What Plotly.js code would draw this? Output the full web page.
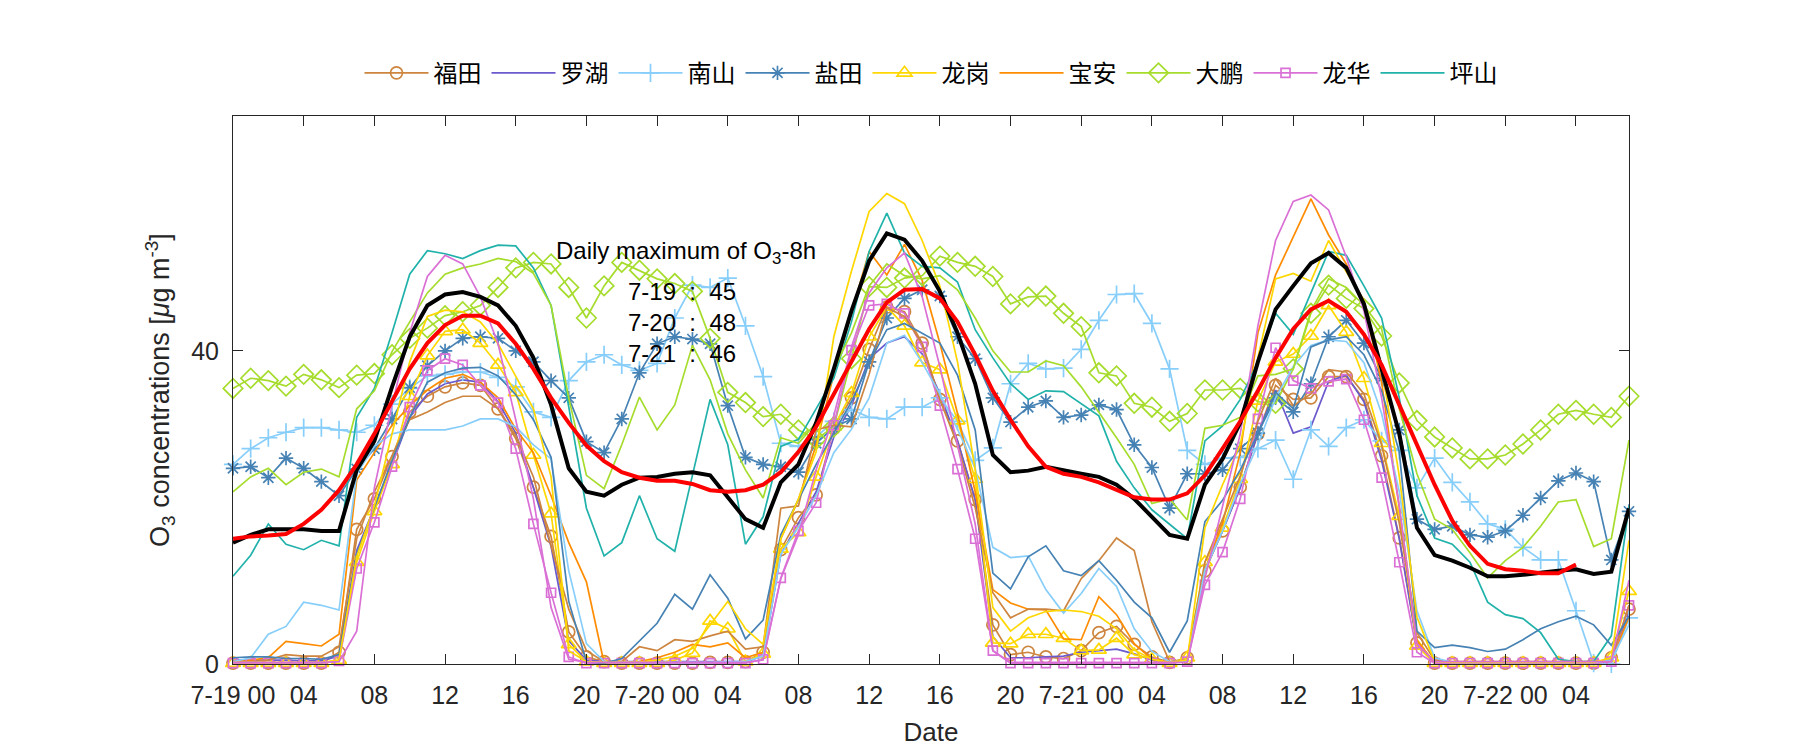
<!DOCTYPE html>
<html>
<head>
<meta charset="utf-8">
<script src="https://cdn.plot.ly/plotly-3.0.1.min.js"></script>
<style>html,body{margin:0;padding:0;background:#fff;}#chart{width:1800px;height:750px;}</style>
</head>
<body>
<div id="chart"></div>
<script>
// ---- time axis (hours since 7-19 00:00) ----
const hours = [0,1,2,3,4,5,6,7,8,9,10,11,12,13,14,15,16,17,18,19,20,21,22,23,24,25,26,27,28,29,30,31,32,33,34,35,36,37,38,39,40,41,42,43,44,45,46,47,48,49,50,51,52,53,54,55,56,57,58,59,60,61,62,63,64,65,66,67,68,69,70,71,72,73,74,75,76,77,78,79];
const tickHours = [0,4,8,12,16,20,24,28,32,36,40,44,48,52,56,60,64,68,72,76];
const tickLabels = ['7-19 00','04','08','12','16','20','7-20 00','04','08','12','16','20','7-21 00','04','08','12','16','20','7-22 00','04'];

// ---- station names ----
const stations = ['福田','罗湖','南山','盐田','龙岗','宝安','大鹏','龙华','坪山'];

// ---- first-set station series (with legend) ----
const futian = [0.1,0.1,0.1,0.1,0.1,0.1, 1.5,17.2,21.1,26.5,32.2,34.2,35.4,35.9,35.6,32.6,28.8,22.6,16.3,4.1,0.9,0.3, 0.1,0.1,0.1,0.1,0.1,0.2,0.2,0.3, 1.5,14.6,18.7,21.6,30.1,34.0,40.2,45.6,45.0,41.0,33.8,28.5,21.0,5.0,1.2,1.5,0.9,0.7,1.7,4.0,4.8,2.5,0.9,0.2, 0.8,11.9,17.0,22.6,29.4,35.6,33.8,34.0,36.7,36.7,33.8,26.6,16.1,2.7, 0.1,0.1,0.1,0.1,0.1,0.1,0.1,0.1,0.1,0.1, 0.8,7.0];
const luohu = [0.5,0.5,0.5,0.5,0.4,0.4,1.0, 14.5,20.0,25.5,31.5,34.5,35.8,36.3,36.0,33.5,29.5,22.5,15.0,3.0,0.5, 0.3,0.3,0.3,0.3,0.3,0.3,0.3,0.3,0.3,1.0, 14.0,18.0,22.0,29.0,33.0,39.0,41.0,41.8,39.6,34.5,28.5,21.0,3.5,0.8, 0.8,0.9,1.0,1.5,1.7,1.9,1.3,0.5,0.2,0.3, 12.0,17.0,22.5,29.5,35.0,29.5,30.3,36.1,36.9,33.5,26.0,16.0,2.5, 0.2,0.2,0.2,0.2,0.2,0.2,0.2,0.2,0.2,0.2,0.5,6.5];
const nanshan = [25.5,27.5,28.9,29.6,30.2,30.2,29.9,29.6,30.5,33.2,35.2, 36.8,37.0,37.3,37.3,36.6,35.4,32.2,31.5,36.2,38.6,39.5,38.2,37.5,38.4,44.2,48.4, 48.1,49.3,43.2,36.7,28.2,27.8,29.0,31.0,32.5,31.5,31.3,32.8,32.8,34.0,31.0,26.0,27.6,35.8,38.4,37.7,37.8,40.2,43.9,47.2,47.3,43.5,37.7, 27.3,25.5,26.3,26.4,27.5,28.6,23.6,29.9,27.8,30.2,31.2,28.5,27.3,22.5,26.3,23.2,20.7,17.9,17.2,14.9,13.3,13.3,6.8,0.1,0.0,5.9];
const yantian = [25.0,25.2,23.8,26.3,25.0,23.3,21.5,24.9,27.5,31.3,35.3,38.1,40.0,41.6,41.8,41.6,40.0,38.6,36.2,34.0,28.4,27.0,31.3,37.2,40.9,41.8,41.5, 40.9,33.0,26.4,25.5,25.2,24.5,28.2,30.2,31.3,38.6,44.2,46.7,47.8,47.0,41.8,39.0,34.0,30.9,32.8,33.6,31.5,31.8,33.1,32.5,28.0,25.1,19.9, 24.3,24.3,24.8,27.5,29.5,34.0,32.2,35.8,41.8,43.9,41.0,36.5,29.9,18.5,17.2,17.6,16.5,16.2,17.0,19.0,21.2,23.4,24.4,23.3,13.3,19.5];
const longgang = [0.1,0.1,0.1,0.1,0.1,0.1, 0.5,13.0,19.5,25.5,34.2,39.4,42.5,42.7,41.0,38.2,34.7,26.7,19.2,2.5,0.3,0.1,0.1,0.1,0.1,0.5,1.4, 5.5,4.5,0.3,1.3,14.7,16.8,23.9,30.3,34.6,41.8,45.6,43.2,38.5,37.6,31.1,23.6,2.7,2.6,3.8,3.8,3.3,1.7,1.8,3.3,1.2,0.6,0.1, 0.8,13.0,17.4,23.6,33.6,38.6,39.6,41.9,45.8,42.4,36.5,28.2,18.9,2.3, 0.1,0.1,0.1,0.1,0.1,0.1,0.1,0.1,0.1,0.1, 0.8,9.3];
const baoan = [0.3,0.5,0.8,2.9,2.6,2.3,3.8, 23.5,27.0,30.5,33.0,35.0,36.5,37.0,36.0,34.0,30.0,27.0,21.5,15.5,10.5, 0.1,0.1,0.3,0.8,1.5,2.5,2.2,2.7,0.8,1.5, 16.0,21.0,28.0,37.0,45.0,52.7,49.7,53.6,49.0,41.0,32.0,22.0,9.5,7.8, 7.0,6.9,3.2,3.1,8.6,6.3,2.6,0.6,0.2,0.3, 12.0,18.0,27.0,42.3,49.7,54.5,59.4,54.8,51.1,46.0,36.0,20.0,3.0, 0.2,0.2,0.2,0.2,0.2,0.2,0.2,0.2,0.2,0.2,0.5,6.0];
const dapeng = [35.2,36.5,36.2,35.5,37.0,36.3,35.3,36.9,37.1,39.5,41.6,42.9,44.5,45.0,45.8,48.1,50.6,51.3,51.1,48.1,44.2,48.3,51.3,50.3,49.2,48.6,47.6,41.6, 34.7,33.4,31.6,31.9,29.9,28.7,30.3,39.0, 48.2,48.1,49.3,49.6,52.1,51.3,50.8,49.5,46.0,46.9,47.0,44.8,43.1,37.2,36.8,33.3,32.8,31.0, 32.0,35.0,35.0,35.2,33.5,33.3,37.7,44.8,48.4,46.7,45.4,41.9,35.9,31.1,29.0,27.6,26.2,26.2,26.7,28.1,29.9,31.9,32.4,31.9,31.5,34.2];
const longhua = [0.1,0.1,0.1,0.1,0.1,0.1, 0.4,12.2,18.1,25.2,32.8,37.5,39.0,38.2,35.6,33.4,27.5,17.9,9.1,0.9,0.1,0.1, 0.1,0.1,0.1,0.1,0.1,0.1,0.1,0.1, 0.6,11.0,17.0,20.6,30.5,40.1,45.8,46.0,44.8,40.5,33.0,24.9,16.0,1.7,0.1, 0.1,0.1,0.1,0.1,0.1,0.1,0.1,0.1,0.1,0.3, 10.1,14.3,21.1,31.3,40.4,36.2,35.2,36.1,36.4,31.2,23.8,13.0,1.5, 0.1,0.1,0.1,0.1,0.1,0.1,0.1,0.1,0.1,0.1,0.3,7.5];
const pingshan = [11.2,13.9,17.9,15.3,14.6,15.8,15.1,31.5,35.2,42.3,49.8,52.8,52.4,51.8,52.8,53.5,53.4,50.6,45.8,33.1,19.9,13.8,15.5,21.5,16.0,14.4,24.3, 33.8,28.0,15.3,18.8,27.8,28.7,32.6,36.5,43.7,52.7,57.6,52.5,50.8,50.6,48.8,42.7,39.1,35.8,33.8,34.9,34.8,33.3,31.7,25.9,22.5,19.7,17.9, 16.0,28.5,30.4,33.8,38.6,44.8,42.1,47.4,52.7,52.2,48.3,44.2,34.0,21.5,16.1,15.3,13.0,7.9,6.3,5.8,4.0,0.6,0.3,0.3,3.6,20.2];

// ---- second-set station series (same colours, no legend entry) ----
const futian2 = [0.3,0.3,0.5,1.2,1.0,1.0,2.2, 16.0,22.0,26.6,31.2,32.2,33.4,34.2,34.2,32.6,29.2,23.9,15.1,7.0,1.7,0.3, 0.3,2.2,1.7,3.1,2.9,3.6,4.2,1.9,2.2, 19.9,20.2,29.9,30.5,30.3,37.0,45.5,44.4,40.9,33.8,28.0,20.0,9.1,5.9,7.0,7.0,6.8,10.9,13.2,16.1,14.5,5.4,0.3, 0.5,13.0,18.5,24.0,31.0,36.5,33.0,34.5,37.6,37.3,34.5,28.0,18.0,4.0, 0.5,0.3,0.3,0.3,0.3,0.3,0.3,0.3,0.3,0.3, 0.5,7.5];
const nanshan2 = [0.3,0.8,3.8,4.8,7.9,7.5,6.9,24.3,27.8,29.4,29.9,29.9,29.9,30.4,31.3,31.3,30.3,28.0,26.2,11.9,2.6,0.3, 0.2,0.2,0.2,0.2,0.2,0.2,0.3,0.3,1.0, 14.0,17.5,21.5,27.0,30.0,34.0,41.0,42.0,38.5,34.5,30.0,25.0, 14.9,13.6,13.8,9.5,6.5,9.0,12.2,9.9,4.5,1.6,0.3, 0.3,12.0,17.0,23.0,28.0,34.0,38.0,40.7,41.4,41.2,38.5,32.0,22.0,6.8,0.8, 0.2,0.2,0.2,0.2,0.2,0.2,0.2,0.2,0.2,0.5,5.0];
const yantian2 = [0.8,0.9,0.9,0.7,0.7,0.6,1.2, 14.0,20.0,26.0,31.5,36.0,37.2,37.8,37.9,36.8,34.4,31.2,26.4,8.0,0.3, 0.1,0.7,2.9,5.2,8.9,7.0,11.4,8.4,3.2,5.6, 16.5,21.0,25.5,29.5,33.5,38.5,42.7,43.5,42.3,41.0,36.9,29.9,11.6,9.6, 13.7,15.1,11.9,11.3,13.2,10.7,7.9,5.9,1.5,5.5, 18.2,20.9,24.8,29.4,34.7,32.6,40.5,41.4,41.8,39.5,34.9,27.1,4.2,2.1,2.4,2.1,1.6,1.9,3.1,4.5,5.4,6.1,5.0,2.4,6.1];
const longgang2 = [0.2,0.2,0.2,0.2,0.2,0.2,0.5, 13.7,20.2,29.4,38.6,44.4,45.2,45.0,43.7,40.9,36.8,32.6,23.9,1.7,0.3, 0.2,0.2,0.2,0.5,1.0,2.0,5.0,8.0,4.5,2.5, 16.0,21.1,27.1,41.8,50.2,57.8,60.1,58.8,54.1,48.3,38.6,24.8,7.2,4.2,5.9,6.7,6.9,6.7,6.1,4.5,1.8,0.6,0.2, 0.5,17.4,22.9,28.0,39.1,49.2,49.9,48.9,54.1,50.1,46.5,38.0,24.0,6.0, 0.3,0.2,0.2,0.2,0.2,0.2,0.2,0.2,0.2,0.2, 0.8,15.8];
const dapeng2 = [22.0,23.9,25.0,22.9,24.5,24.9,23.9,32.6,34.9,39.9,43.7,47.4,49.8,50.6,51.1,51.8,51.4,49.9,45.8,34.0,24.1,22.4,28.0,34.1,29.9,33.1,40.7, 36.3,29.4,24.8,21.2,28.9,28.2,30.8,37.7,42.3,48.3,51.1,49.6,49.2,49.6,47.8,44.2,40.0,37.3,37.3,38.7,38.1,35.4,32.2,28.9,25.5,20.5,21.1, 18.4,30.1,30.5,31.5,36.8,37.0,37.7,45.1,49.2,48.1,45.8,42.8,32.6,24.3,18.5,17.2,14.2,11.0,13.2,14.9,17.6,20.7,21.0,15.0,16.0,28.6];
const longhua2 = [0.2,0.2,0.2,0.2,0.2,0.2,0.3, 4.2,22.5,33.1,42.3,49.5,52.2,51.1,46.9,40.9,31.2,21.1,7.2,0.6,0.2,0.2, 0.2,0.2,0.2,0.2,0.2,0.2,0.2,0.2,0.5, 10.9,16.5,24.8,31.7,40.5,47.4,50.6,52.5,46.9,38.0,28.0,17.9,1.7,0.2, 0.2,0.2,0.2,0.2,0.2,0.2,0.2,0.2,0.2,0.2, 10.9,20.2,29.4,43.2,54.1,59.1,59.9,58.0,52.0,45.1,34.0,20.2,2.6, 0.3,0.3,0.3,0.3,0.3,0.3,0.3,0.3,0.3,0.3,0.3, 10.7];

// ---- aggregate series ----
const o3Mean = [15.5,16.5,17.2,17.2,17.2,17.0,17.0,24.8,28.5,35.4,41.8,45.8,47.2,47.5,46.9,45.8,43.2,39.1,33.1,25.0,22.0,21.5,22.9,23.8,23.9,24.3,24.5, 24.1,21.3,18.5,17.4,23.2,25.5,30.8,37.7,45.1,51.5,55.0,54.2,51.5,47.6,42.3,35.8,26.7,24.5,24.7,25.2,24.7,24.3,23.9,22.9,21.1,18.8,16.5, 16.0,22.9,26.2,30.8,38.6,45.3,48.3,51.2,52.5,50.6,46.0,37.7,29.4,17.4,13.9,13.2,12.3,11.2,11.2,11.4,11.7,11.9,12.1,11.5,11.8,19.9];
const o3Smooth = [16.0,16.3,16.4,16.6,17.9,19.7,22.2,25.5,29.4,33.5,37.7,41.0,43.3,44.5,44.5,43.5,40.9,37.7,34.0,30.8,27.9,25.9,24.5,23.8,23.4,23.4,23.0, 22.2,22.0,22.2,22.9,24.5,27.1,30.3,34.5,38.6,42.8,46.2,47.8,47.9,46.7,43.7,39.5,34.9,31.2,27.8,25.2,24.3,23.9,23.2,22.2,21.3,21.0,21.0, 21.8,24.1,27.5,31.0,34.9,39.1,42.8,45.3,46.4,45.0,42.1,38.2,33.1,28.0,22.9,18.3,15.1,12.8,12.1,11.9,11.6,11.6,12.7,null,null,null];

// ---- annotation text ----
const dailyMaxDays = ['7-19','7-20','7-21'];
const dailyMaxVals = [45,48,46];

// ---- styles ----
const colors = {
  '福田':'#CD853F','罗湖':'#6A5ACD','南山':'#87CEFA','盐田':'#4682B4','龙岗':'#FFD700',
  '宝安':'#FF8C00','大鹏':'#A6DC2C','龙华':'#DA70D6','坪山':'#20B2AA'
};
const markers = {
  '福田':{symbol:'circle-open',size:12},
  '南山':{symbol:'cross-thin-open',size:13},
  '盐田':{symbol:'asterisk-open',size:12},
  '龙岗':{symbol:'triangle-up-open',size:13},
  '大鹏':{symbol:'diamond-open',size:15},
  '龙华':{symbol:'square-open',size:9}
};
const firstSet = [futian,luohu,nanshan,yantian,longgang,baoan,dapeng,longhua,pingshan];
const secondSet = [['福田',futian2],['南山',nanshan2],['盐田',yantian2],['龙岗',longgang2],['大鹏',dapeng2],['龙华',longhua2]];

const traces = [];
stations.forEach((name,i)=>{
  const m = markers[name];
  const t = {
    x: hours, y: firstSet[i], name: name, type:'scatter',
    mode: m ? 'lines+markers' : 'lines',
    line:{color:colors[name], width:1.7},
    cliponaxis:false, showlegend:true
  };
  if (m) t.marker = {symbol:m.symbol, size:m.size, color:colors[name], line:{color:colors[name], width:1.7}};
  traces.push(t);
});
secondSet.forEach(([name,vals])=>{
  traces.push({x:hours, y:vals, name:name, type:'scatter', mode:'lines',
    line:{color:colors[name], width:1.7}, cliponaxis:false, showlegend:false});
});
traces.push({x:hours, y:o3Mean, name:'mean', type:'scatter', mode:'lines',
  line:{color:'#000000', width:4}, showlegend:false, cliponaxis:false});
traces.push({x:hours, y:o3Smooth, name:'O3-8h', type:'scatter', mode:'lines',
  line:{color:'#FF0000', width:4}, showlegend:false, cliponaxis:false, connectgaps:false});

const annTitle = 'Daily maximum of O<sub>3</sub>-8h';
const annBody = dailyMaxDays.map((d,i)=> d + '&nbsp;&nbsp;:&nbsp;&nbsp;' + dailyMaxVals[i]).join('<br>');

const axisCommon = {
  showline:true, linecolor:'#262626', linewidth:1, mirror:'ticks',
  ticks:'inside', ticklen:10, tickwidth:1, tickcolor:'#262626',
  showgrid:false, zeroline:false,
  tickfont:{size:25, color:'#262626'}
};

const layout = {
  width:1800, height:750,
  margin:{l:233, r:171, t:116, b:86},
  paper_bgcolor:'#ffffff', plot_bgcolor:'#ffffff',
  font:{family:'Liberation Sans, Noto Sans CJK SC, sans-serif', color:'#262626'},
  xaxis: Object.assign({}, axisCommon, {
    range:[0,79], tickmode:'array', tickvals:tickHours, ticktext:tickLabels,
    ticklabelstandoff:9,
    title:{text:'Date', font:{size:26, color:'#262626'}, standoff:14}
  }),
  yaxis: Object.assign({}, axisCommon, {
    range:[0,70], tickmode:'array', tickvals:[0,40], ticktext:['0','40'],
    ticklabelstandoff:8,
    title:{text:'O<sub>3</sub> concentrations [<i>μ</i>g m<sup>-3</sup>]', font:{size:27, color:'#262626'}, standoff:13}
  }),
  legend:{orientation:'h', x:0.5, xanchor:'center', y:1.078, yanchor:'middle',
    font:{size:24, color:'#000000', family:'Noto Sans CJK SC, sans-serif'},
    bgcolor:'rgba(0,0,0,0)', itemwidth:64, traceorder:'normal'},
  annotations:[
    {x:25.62, y:52.6, xref:'x', yref:'y', text:annTitle, showarrow:false,
     align:'center', font:{size:24, color:'#000000'}},
    {x:25.4, y:43.6, xref:'x', yref:'y', text:annBody, showarrow:false,
     align:'center', font:{size:24, color:'#000000'}}
  ],
  showlegend:true
};

Plotly.newPlot('chart', traces, layout, {displayModeBar:false, staticPlot:true});
</script>
</body>
</html>
